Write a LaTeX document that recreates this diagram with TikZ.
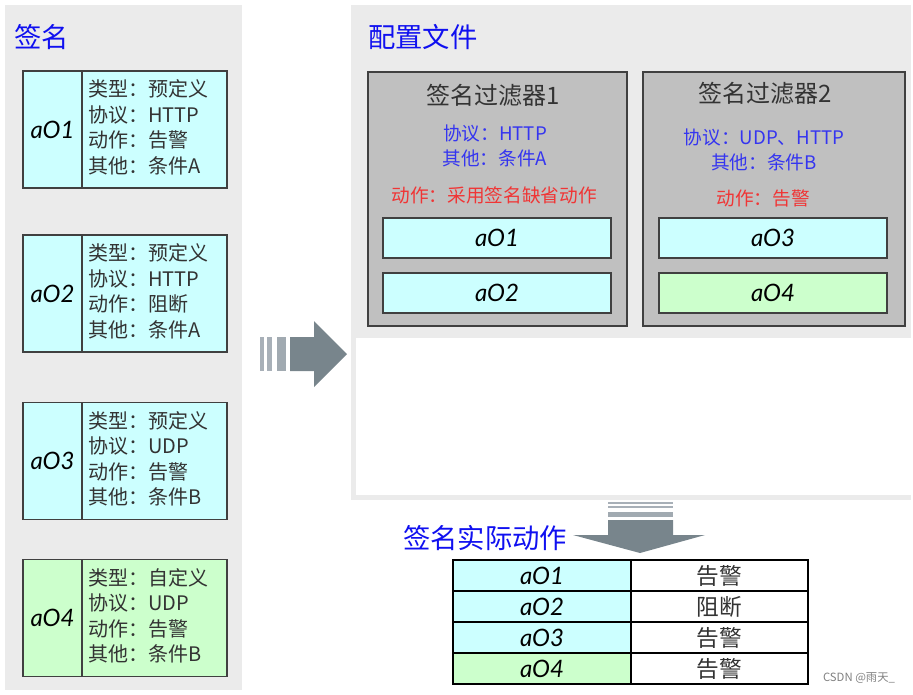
\documentclass[tikz,border=0pt]{standalone}
\usepackage{fontspec}
\setmainfont{Noto Sans CJK SC}
\newfontfamily\handfont{Lato}
\usetikzlibrary{positioning}

\definecolor{panelgray}{HTML}{EBEBEB}
\definecolor{filtgray}{HTML}{C0C0C0}
\definecolor{boxline}{HTML}{404040}
\definecolor{sigcyan}{HTML}{CCFFFF}
\definecolor{siggreen}{HTML}{CCFFCC}
\definecolor{titleblue}{HTML}{1010F0}
\definecolor{textblue}{HTML}{3535F0}
\definecolor{textred}{HTML}{F03535}
\definecolor{textgray}{HTML}{333333}
\definecolor{arrowgray}{HTML}{78858C}
\definecolor{stripegray}{HTML}{A8B0B8}

\begin{document}
\begin{tikzpicture}[
    x=0.75pt, y=-0.75pt,
    title/.style={anchor=west, text=titleblue, inner sep=0pt, font=\fontsize{20.5}{24}\selectfont},
    sigid/.style={draw=boxline, line width=1pt, outer sep=0pt, inner sep=0pt,
      minimum width=44.25pt, minimum height=87.75pt, font=\handfont\itshape\fontsize{18}{18}\selectfont},
    sigtxt/.style={draw=boxline, line width=1pt, outer sep=0pt, inner xsep=4.5pt, inner ysep=0pt,
      minimum width=108.75pt, minimum height=87.75pt, text width=99.75pt, align=left,
      text=textgray, font=\fontsize{15}{19.1}\selectfont},
    filterbox/.style={draw=boxline, fill=filtgray, line width=1.8pt, minimum height=190.5pt},
    filttitle/.style={text=textgray, inner sep=0pt, font=\fontsize{18}{20}\selectfont},
    filtcond/.style={text=textblue, align=center, inner sep=0pt, font=\fontsize{14}{18.75}\selectfont},
    filtact/.style={text=textred, inner sep=0pt, font=\fontsize{14}{16}\selectfont},
    innerbox/.style={draw=boxline, line width=1pt, minimum width=171pt, minimum height=30pt,
      inner sep=0pt, font=\handfont\itshape\fontsize{18}{18}\selectfont},
    cellid/.style={draw=black, line width=0.8pt, outer sep=0pt, inner sep=0pt, minimum width=133.5pt,
      minimum height=23.25pt, font=\handfont\itshape\fontsize{18}{18}\selectfont},
    cellact/.style={draw=black, line width=0.8pt, outer sep=0pt, inner sep=0pt, fill=white, minimum width=132.75pt,
      minimum height=23.25pt, text=textgray, font=\fontsize{17}{18}\selectfont}
  ]
    \useasboundingbox (0,0) rectangle (913,694);

    % Panels
    \fill[panelgray] (5,5) rectangle (242,690);
    \fill[panelgray] (351,5) rectangle (911,500);
    \fill[white] (356,338) rectangle (911,495);

    \node[title] at (14,37) (sigtitle) {签名};
    \node[title] at (368,37) (cfgtitle) {配置文件};

    % Signatures
    \node[sigid, fill=sigcyan] at (52.5,129.5) (s1id) {aO1};
    \node[sigtxt, fill=sigcyan, right=0pt of s1id] (s1txt) {类型：预定义\\协议：HTTP\\动作：告警\\其他：条件A\vspace{3pt}};
    \node[sigid, fill=sigcyan] at (52.5,293.5) (s2id) {aO2};
    \node[sigtxt, fill=sigcyan, right=0pt of s2id] (s2txt) {类型：预定义\\协议：HTTP\\动作：阻断\\其他：条件A\vspace{3pt}};
    \node[sigid, fill=sigcyan] at (52.5,461) (s3id) {aO3};
    \node[sigtxt, fill=sigcyan, right=0pt of s3id] (s3txt) {类型：预定义\\协议：UDP\\动作：告警\\其他：条件B\vspace{3pt}};
    \node[sigid, fill=siggreen] at (52.5,618) (s4id) {aO4};
    \node[sigtxt, fill=siggreen, right=0pt of s4id] (s4txt) {类型：自定义\\协议：UDP\\动作：告警\\其他：条件B\vspace{3pt}};

    % Filters
    \node[filterbox, minimum width=194.25pt] at (497.5,199) (filt1) {};
    \node[filttitle] at (493,95) (filt1title) {签名过滤器1};
    \node[filtcond] at (495,146) (filt1cond) {协议：HTTP\\其他：条件A};
    \node[filtact] at (494,195) (filt1act) {动作：采用签名缺省动作};
    \node[innerbox, fill=sigcyan] at (497,238) (f1a) {aO1};
    \node[innerbox, fill=sigcyan] at (497,293) (f1b) {aO2};

    \node[filterbox, minimum width=196.5pt] at (774,199) (filt2) {};
    \node[filttitle] at (765,93) (filt2title) {签名过滤器2};
    \node[filtcond] at (764,150) (filt2cond) {协议：UDP、HTTP\\其他：条件B};
    \node[filtact] at (763,198) (filt2act) {动作：告警};
    \node[innerbox, fill=sigcyan] at (773,238) (f2a) {aO3};
    \node[innerbox, fill=siggreen] at (773,293) (f2b) {aO4};

    % Block arrows
    \fill[stripegray] (260,337) rectangle (264,371);
    \fill[stripegray] (267,337) rectangle (272,371);
    \fill[stripegray!85!arrowgray] (277,337) rectangle (286,371);
    \fill[arrowgray] (290,337) -- (314,337) -- (314,321) -- (347,354) -- (314,387) -- (314,371) -- (290,371) -- cycle;

    \fill[stripegray] (608,502) rectangle (673,504);
    \fill[stripegray] (608,506) rectangle (673,508);
    \fill[stripegray!85!arrowgray] (608,512) rectangle (673,517);
    \fill[arrowgray] (608,520) -- (673,520) -- (673,535) -- (705,535) -- (640,553) -- (573,535) -- (608,535) -- cycle;

    % Result table
    \node[title] at (403,538) (restitle) {签名实际动作};
    \node[cellid, fill=sigcyan] at (542,575.5) (r1id) {aO1};
    \node[cellact, right=0pt of r1id] (r1act) {告警};
    \node[cellid, fill=sigcyan, below=0pt of r1id] (r2id) {aO2};
    \node[cellact, right=0pt of r2id] (r2act) {阻断};
    \node[cellid, fill=sigcyan, below=0pt of r2id] (r3id) {aO3};
    \node[cellact, right=0pt of r3id] (r3act) {告警};
    \node[cellid, fill=siggreen, below=0pt of r3id] (r4id) {aO4};
    \node[cellact, right=0pt of r4id] (r4act) {告警};

    \node[text=gray, inner sep=0pt, font=\fontsize{8.5}{10}\selectfont] at (859,678) (mark) {CSDN @雨天\_};

  \end{tikzpicture}
\end{document}
